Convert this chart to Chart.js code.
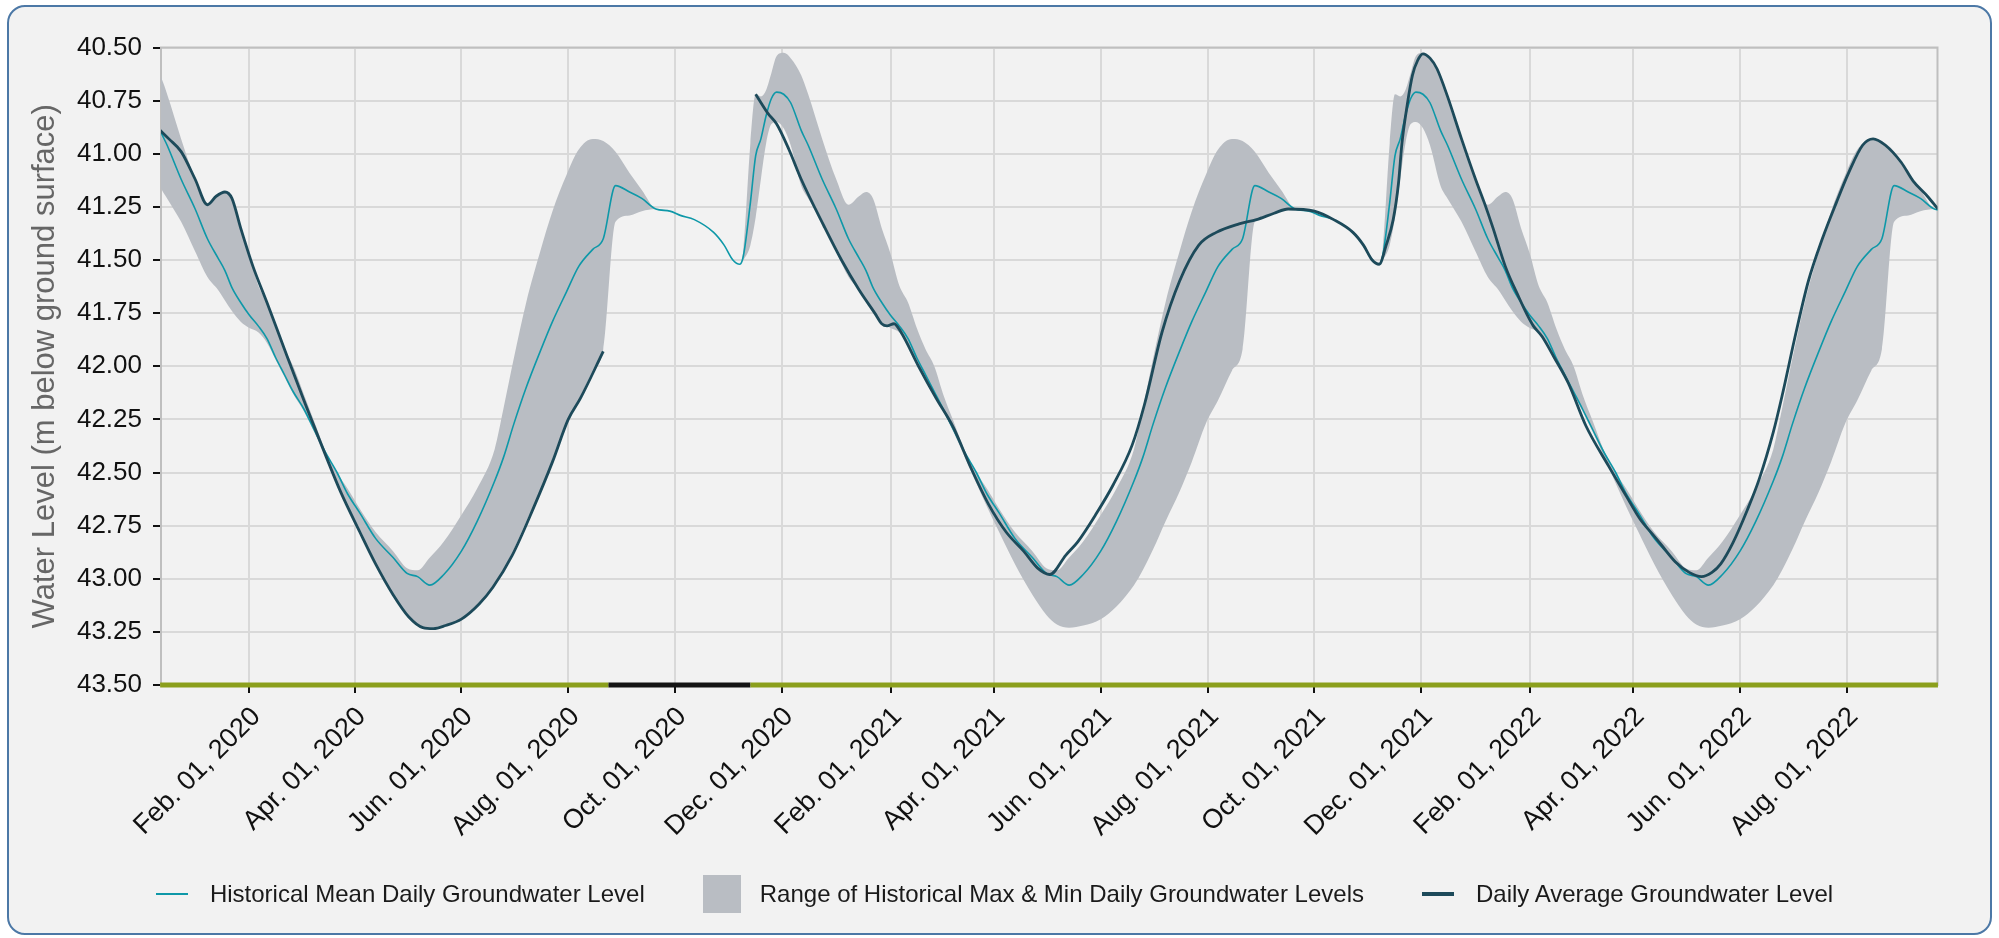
<!DOCTYPE html>
<html>
<head>
<meta charset="utf-8">
<script src="https://cdn.jsdelivr.net/npm/chart.js@4.4.1/dist/chart.umd.min.js"></script>
<style>
  html, body { margin: 0; padding: 0; background: #fff; }
  body { width: 1999px; height: 938px; position: relative; overflow: hidden;
         font-family: "Liberation Sans", Arial, sans-serif; }
  #card { position: absolute; left: 7px; top: 5px; width: 1981px; height: 926px;
          border: 2px solid #4c78a6; border-radius: 18px; background: #f2f2f2; }
  #myChart { position: absolute; left: 0; top: 0; }
  #legend { position: absolute; left: 0; top: 875px; width: 1989px; height: 38px;
            display: flex; justify-content: center; align-items: center;
            font-size: 24px; color: #1a1a1a; white-space: nowrap; }
  .sw-line { width: 32px; margin-right: 22px; }
  .sw-box { width: 38px; height: 38px; margin-right: 19px; }
  .gap { margin-right: 58px; }
</style>
</head>
<body>
<div id="card"></div>
<canvas id="myChart" width="1999" height="938"></canvas>
<div id="legend"></div>

<script>
// axis range and ticks
const xStart = '2019-12-12T12:00:00Z';
const xEnd = '2022-09-21T18:00:00Z';
const tickDates = ['2020-02-01', '2020-04-01', '2020-06-01', '2020-08-01', '2020-10-01', '2020-12-01',
                   '2021-02-01', '2021-04-01', '2021-06-01', '2021-08-01', '2021-10-01', '2021-12-01',
                   '2022-02-01', '2022-04-01', '2022-06-01', '2022-08-01'];
const monthAbbr = ['Jan.', 'Feb.', 'Mar.', 'Apr.', 'May', 'Jun.', 'Jul.', 'Aug.', 'Sep.', 'Oct.', 'Nov.', 'Dec.'];
const yTickValues = [40.5, 40.75, 41.0, 41.25, 41.5, 41.75, 42.0, 42.25, 42.5, 42.75, 43.0, 43.25, 43.5];

// historical daily statistics, by calendar day (same every year)
const profileDays = ['01-01','01-08','01-14','01-18','01-22','01-27','02-01','02-06','02-11','02-16',
  '02-21','02-26','03-03','03-09','03-15','03-22','03-28','04-04','04-13','04-23',
  '05-01','05-07','05-14','05-22','06-01','06-10','06-20','06-25','07-01','07-08',
  '07-16','07-23','07-31','08-07','08-15','08-21','08-28','09-05','09-12','09-20',
  '09-28','10-04','10-12','10-23','10-29','11-03','11-07','11-09','11-13','11-16',
  '11-19','11-22','11-25','11-28','12-02','12-06','12-12','12-16','12-24'];
const histMax = [41.12,41.24,41.20,41.18,41.21,41.35,41.47,41.62,41.70,41.82,
  41.92,42.00,42.13,42.26,42.39,42.50,42.575,42.67,42.78,42.87,
  42.95,42.96,42.90,42.825,42.70,42.575,42.39,42.20,41.96,41.70,
  41.46,41.27,41.10,40.98,40.93,40.94,40.99,41.09,41.17,41.26,
  41.27,41.29,41.31,41.37,41.43,41.50,41.52,41.45,40.95,40.72,
  40.73,40.70,40.62,40.54,40.525,40.55,40.63,40.72,40.93];
const histMean = [41.26,41.40,41.49,41.55,41.63,41.70,41.76,41.81,41.87,41.96,
  42.04,42.12,42.20,42.30,42.40,42.50,42.60,42.69,42.81,42.90,
  42.975,42.99,43.03,42.98,42.87,42.73,42.54,42.43,42.27,42.10,
  41.93,41.79,41.65,41.53,41.45,41.40,41.15,41.18,41.21,41.26,
  41.27,41.29,41.31,41.37,41.43,41.50,41.52,41.48,41.23,41.01,
  40.93,40.82,40.74,40.71,40.72,40.76,40.89,40.96,41.12];
const histMin = [41.46,41.58,41.64,41.69,41.74,41.79,41.82,41.84,41.89,41.97,
  42.05,42.13,42.21,42.31,42.42,42.55,42.66,42.78,42.93,43.075,
  43.17,43.215,43.23,43.22,43.19,43.13,43.03,42.96,42.86,42.73,
  42.59,42.45,42.27,42.16,42.02,41.92,41.32,41.29,41.27,41.26,
  41.27,41.29,41.31,41.37,41.43,41.50,41.52,41.50,41.43,41.30,
  41.12,40.95,40.86,40.85,40.88,40.96,41.15,41.21,41.32];
const profileYears = [2019, 2020, 2021, 2022];

// daily average groundwater level (null = no data)
const avgDates = ['2019-12-12','2019-12-17','2019-12-24','2020-01-01','2020-01-08','2020-01-13','2020-01-18',
  '2020-01-22','2020-01-27','2020-02-03','2020-02-11','2020-02-21','2020-03-04','2020-03-16','2020-03-24',
  '2020-04-04','2020-04-13','2020-04-23','2020-05-02','2020-05-10','2020-05-16','2020-05-23','2020-06-01',
  '2020-06-11','2020-06-19','2020-06-30','2020-07-12','2020-07-23','2020-08-01','2020-08-08','2020-08-21',
  '2020-09-15',
  '2020-11-16','2020-11-23','2020-11-28','2020-12-05','2020-12-12','2020-12-25','2021-01-04','2021-01-14',
  '2021-01-23','2021-01-27','2021-01-30','2021-02-03','2021-02-07','2021-02-17','2021-02-27','2021-03-09',
  '2021-03-19','2021-03-29','2021-04-08','2021-04-18','2021-04-26','2021-05-03','2021-05-12','2021-05-19',
  '2021-05-29','2021-06-08','2021-06-19','2021-06-26','2021-07-06','2021-07-16','2021-07-27','2021-08-06',
  '2021-08-19','2021-08-29','2021-09-08','2021-09-16','2021-10-01','2021-10-12','2021-10-23','2021-10-29',
  '2021-11-03','2021-11-07','2021-11-11','2021-11-15','2021-11-18','2021-11-20','2021-11-23','2021-11-26',
  '2021-11-29','2021-12-02','2021-12-06','2021-12-10','2021-12-16','2021-12-24','2022-01-01','2022-01-06',
  '2022-01-11','2022-01-18','2022-01-26','2022-01-30','2022-02-03','2022-02-08','2022-02-15','2022-02-23',
  '2022-03-05','2022-03-18','2022-03-28','2022-04-05','2022-04-12','2022-04-17','2022-04-25','2022-05-03',
  '2022-05-10','2022-05-16','2022-05-21','2022-05-28','2022-06-05','2022-06-12','2022-06-20','2022-06-25',
  '2022-07-03','2022-07-10','2022-07-18','2022-07-26','2022-08-02','2022-08-10','2022-08-16','2022-08-23',
  '2022-09-01','2022-09-08','2022-09-16','2022-09-22'];
const avgLevels = [40.89,40.93,40.99,41.12,41.24,41.20,41.18,
  41.21,41.35,41.53,41.70,41.92,42.18,42.43,42.59,
  42.78,42.93,43.075,43.18,43.23,43.235,43.22,43.19,
  43.12,43.04,42.89,42.67,42.45,42.25,42.15,41.93,
  null,
  40.72,40.81,40.86,40.98,41.12,41.34,41.50,41.64,
  41.75,41.80,41.81,41.80,41.84,42.00,42.15,42.29,
  42.48,42.65,42.78,42.87,42.95,42.98,42.89,42.825,
  42.70,42.56,42.37,42.18,41.84,41.60,41.43,41.37,
  41.33,41.31,41.28,41.26,41.27,41.31,41.37,41.43,
  41.50,41.52,41.43,41.31,41.14,40.95,40.77,40.63,
  40.56,40.53,40.55,40.60,40.73,40.93,41.12,41.23,
  41.35,41.53,41.68,41.75,41.81,41.86,41.96,42.08,
  42.28,42.47,42.61,42.72,42.79,42.84,42.92,42.97,
  42.99,42.97,42.93,42.83,42.68,42.53,42.31,42.14,
  41.84,41.60,41.40,41.23,41.09,40.96,40.93,40.96,
  41.04,41.13,41.20,41.26];

// data grade strip along the bottom of the plot
const gradeDates = ['2019-12-12', '2020-08-24', '2020-11-13', '2022-09-22'];
const gradeLevel = 43.5;
const gradeColors = ['#8b9f1c', '#141414', '#8b9f1c'];

const labels = {
  mean: 'Historical Mean Daily Groundwater Level',
  range: 'Range of Historical Max & Min Daily Groundwater Levels',
  avg: 'Daily Average Groundwater Level'
};
const colors = { mean: '#0e98a8', range: '#b9bdc3', avg: '#1d4a5a' };

function toMs(s) { return Date.parse(s.length > 10 ? s : s + 'T00:00:00Z'); }
function fmtDate(ms) {
  const d = new Date(ms);
  return monthAbbr[d.getUTCMonth()] + ' ' + String(d.getUTCDate()).padStart(2, '0') + ', ' + d.getUTCFullYear();
}
function expand(values) {
  const pts = [];
  profileYears.forEach(yr => {
    profileDays.forEach((md, i) => pts.push({ x: toMs(yr + '-' + md), y: values[i] }));
  });
  return pts;
}

const plotFrame = {
  id: 'plotFrame',
  beforeDatasetsDraw(chart) {
    const { ctx, chartArea: a } = chart;
    ctx.save();
    ctx.strokeStyle = '#bfbfbf';
    ctx.lineWidth = 2;
    ctx.strokeRect(a.left, a.top, a.right - a.left, a.bottom - a.top);
    ctx.restore();
  }
};

const font = '"Liberation Sans", Arial, sans-serif';
const ctx = document.getElementById('myChart');

new Chart(ctx, {
  type: 'line',
  data: {
    datasets: [
      {
        label: labels.avg,
        data: avgDates.map((d, i) => ({ x: toMs(d), y: avgLevels[i] })),
        borderColor: colors.avg,
        borderWidth: 2.8,
        spanGaps: false,
        cubicInterpolationMode: 'monotone',
        fill: false
      },
      {
        label: labels.mean,
        data: expand(histMean),
        borderColor: colors.mean,
        borderWidth: 1.6,
        cubicInterpolationMode: 'monotone',
        fill: false
      },
      {
        label: labels.range,
        data: expand(histMax),
        borderWidth: 0,
        borderColor: 'rgba(0,0,0,0)',
        backgroundColor: colors.range,
        cubicInterpolationMode: 'monotone',
        fill: '+1'
      },
      {
        label: 'min',
        data: expand(histMin),
        borderWidth: 0,
        borderColor: 'rgba(0,0,0,0)',
        cubicInterpolationMode: 'monotone',
        fill: false
      },
      {
        label: 'grade',
        data: gradeDates.map(d => ({ x: toMs(d), y: gradeLevel })),
        borderWidth: 5,
        borderCapStyle: 'butt',
        tension: 0,
        clip: false,
        segment: { borderColor: c => gradeColors[c.p0DataIndex] },
        fill: false
      }
    ]
  },
  options: {
    responsive: false,
    animation: false,
    layout: { padding: { left: 0, right: 61.5, top: 47.5, bottom: 83 } },
    elements: { point: { radius: 0, hoverRadius: 0 } },
    plugins: { legend: { display: false }, tooltip: { enabled: false } },
    scales: {
      x: {
        type: 'linear',
        min: toMs(xStart),
        max: toMs(xEnd),
        afterFit: s => { s.height = 170; },
        afterBuildTicks: s => { s.ticks = tickDates.map(d => ({ value: toMs(d) })); },
        border: { display: false },
        grid: { color: '#d9d9d9', lineWidth: 2, tickColor: '#111', tickWidth: 2, tickLength: 8 },
        ticks: {
          autoSkip: false, minRotation: 45, maxRotation: 45, padding: 8, labelOffset: 7,
          color: '#111', font: { family: font, size: 27 },
          callback: v => fmtDate(v)
        }
      },
      y: {
        reverse: true,
        min: 40.5,
        max: 43.5,
        afterFit: s => { s.width = 161; },
        afterBuildTicks: s => { s.ticks = yTickValues.map(v => ({ value: v })); },
        border: { display: false },
        grid: { color: '#d9d9d9', lineWidth: 2, tickColor: '#111', tickWidth: 2, tickLength: 8 },
        ticks: {
          padding: 11, color: '#111', font: { family: font, size: 26 },
          callback: v => Number(v).toFixed(2)
        },
        title: {
          display: true,
          text: 'Water Level (m below ground surface)',
          color: '#666',
          font: { family: font, size: 31 },
          padding: { top: 27, bottom: 0 }
        }
      }
    }
  },
  plugins: [plotFrame]
});

// legend below the chart
const legend = document.getElementById('legend');
legend.innerHTML =
  '<span class="sw-line" style="height:2px;background:' + colors.mean + '"></span>' +
  '<span class="gap">' + labels.mean + '</span>' +
  '<span class="sw-box" style="background:' + colors.range + '"></span>' +
  '<span class="gap">' + labels.range.replace('&', '&amp;') + '</span>' +
  '<span class="sw-line" style="height:4px;background:' + colors.avg + '"></span>' +
  '<span>' + labels.avg + '</span>';
</script>
</body>
</html>
